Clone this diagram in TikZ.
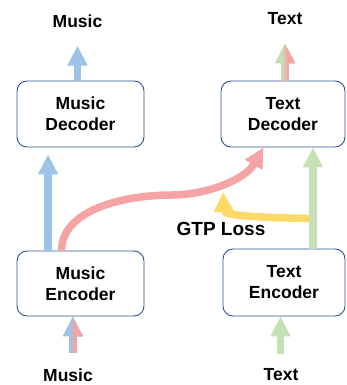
\documentclass[tikz,border=0pt]{standalone}
\usepackage{fontspec}
\setmainfont{Liberation Sans}
\usetikzlibrary{arrows.meta}
\definecolor{boxline}{RGB}{47,82,143}
\definecolor{musicblue}{RGB}{157,195,230}
\definecolor{lossred}{RGB}{244,164,164}
\definecolor{textgreen}{RGB}{197,224,180}
\definecolor{gtpyellow}{RGB}{255,217,102}

\begin{document}
\begin{tikzpicture}[x=1pt,y=1pt,
    coder/.style={draw=boxline,line width=0.9pt,rounded corners=10pt,minimum width=127pt,minimum height=66pt,align=center,inner sep=0pt,font=\fontsize{17.5}{21}\selectfont\bfseries},
    label node/.style={inner sep=0pt,font=\fontsize{17.5}{21}\selectfont\bfseries},
    flow/.style={line width=7.5pt,-{Triangle[width=19pt,length=20pt]}}]
    \useasboundingbox (0,0) rectangle (346,-385);
    \node[coder] (mdec) at (80.5,-114) {Music\\Decoder};
    \node[coder,minimum width=124pt] (tdec) at (283,-114) {Text\\Decoder};
    \node[coder,minimum height=65pt] (menc) at (80.5,-283.5) {Music\\Encoder};
    \node[coder,minimum width=122pt,minimum height=67pt] (tenc) at (284,-282.5) {Text\\Encoder};
    \node[label node] (mout) at (77.5,-21) {Music};
    \node[label node] (tout) at (285,-19) {Text};
    \node[label node] (min) at (68,-375.5) {Music};
    \node[label node] (tin) at (281,-375) {Text};
    \node[label node,font=\fontsize{19}{22}\selectfont\bfseries] (loss) at (221,-228.5) {GTP Loss};

    \coordinate (msrc) at (72.8,-353);
    \coordinate (tsrc) at (280.6,-354);
    \coordinate (gtop) at ([xshift=29pt]tenc.north);
    \coordinate (bend) at (172,-195);
    \coordinate (gtpstart) at ([xshift=-4pt,yshift=30pt]gtop);
    \coordinate (gtpend) at (223,-192);

    % outputs
    \draw[flow,musicblue] (mdec.north -| mout) -- ([yshift=-18pt]mout.south);
    \draw[flow,textgreen] (tdec.north -| tout) -- ([yshift=-18pt]tout.south);
    \begin{scope}
      \clip ([xshift=-1.5pt]tdec.north -| tout) rectangle ([xshift=12pt]tout.south);
      \draw[flow,textgreen!50!lossred] (tdec.north -| tout) -- ([yshift=-18pt]tout.south);
    \end{scope}
    \begin{scope}
      \clip ([xshift=1.5pt]tdec.north -| tout) rectangle ([xshift=12pt]tout.south);
      \draw[flow,lossred] (tdec.north -| tout) -- ([yshift=-18pt]tout.south);
    \end{scope}

    % encoder to decoder
    \draw[flow,musicblue] ([xshift=31.5pt]menc.north west) -- ([xshift=31.5pt,yshift=-7pt]mdec.south west);
    \draw[flow,gtpyellow] (gtpstart) .. controls +(-45pt,1pt) and +(1pt,-24pt) .. (gtpend);
    \draw[flow,textgreen] (gtop) -- (gtop |- tdec.south);
    \draw[flow,lossred] ([xshift=45pt]menc.north west) .. controls +(0,40pt) and +(-50pt,0) .. (bend)
        .. controls +(33pt,0) and +(-19pt,-33pt) .. ([xshift=43pt]tdec.south west);

    % inputs
    \draw[flow,musicblue] (msrc) -- (msrc |- menc.south);
    \begin{scope}
      \clip ([xshift=-1.5pt]msrc) rectangle ([xshift=12pt]msrc |- menc.south);
      \draw[flow,musicblue!50!lossred] (msrc) -- (msrc |- menc.south);
    \end{scope}
    \begin{scope}
      \clip ([xshift=1.5pt]msrc) rectangle ([xshift=12pt]msrc |- menc.south);
      \draw[flow,lossred] (msrc) -- (msrc |- menc.south);
    \end{scope}
    \draw[flow,textgreen] (tsrc) -- (tsrc |- tenc.south);
\end{tikzpicture}
\end{document}
